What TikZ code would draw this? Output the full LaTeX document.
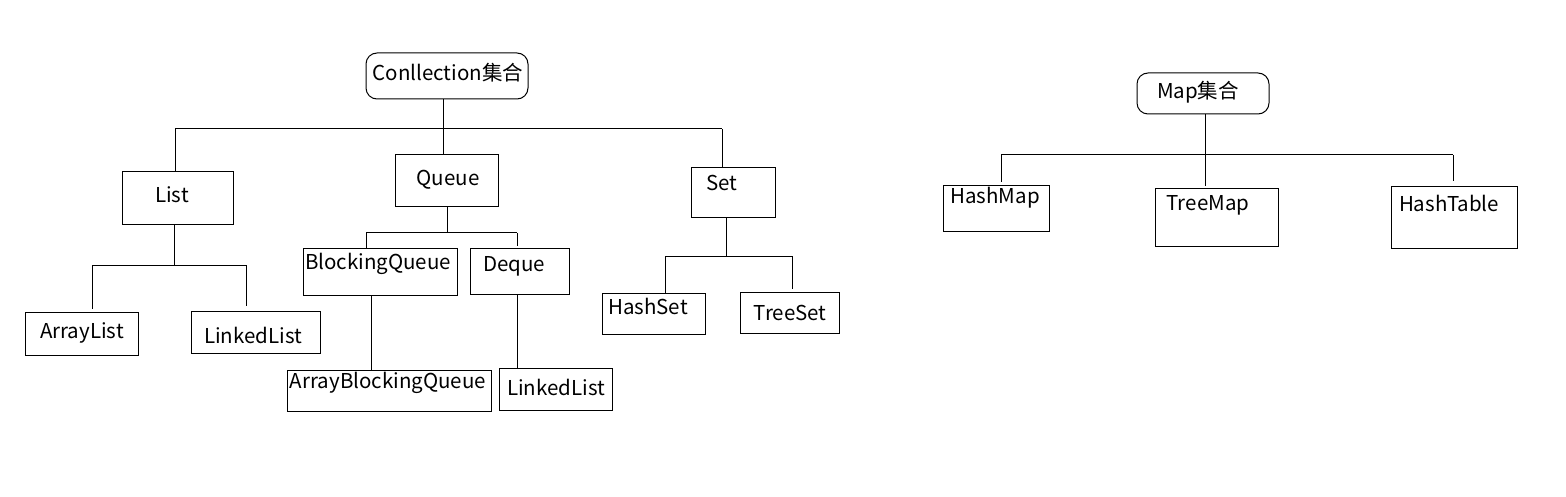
\documentclass[tikz,border=0pt]{standalone}
\usepackage{fontspec}
\setmainfont{Noto Sans CJK SC}
\begin{document}
\begin{tikzpicture}[x=1pt,y=-1pt,
  line width=1pt,
  box/.style={draw=black,line width=1pt,inner sep=0pt},
  rbox/.style={box,rounded corners=11pt},
  txt/.style={inner sep=0pt,font=\fontsize{20.5}{20.5}\selectfont},
  gap/.style={shorten >=3pt}]
\useasboundingbox (0,0) rectangle (1566,497);
% boxes
\node[rbox,minimum width=162,minimum height=46] (coll) at (447,76) {};
\node[box,minimum width=111,minimum height=53] (list) at (177.5,198.5) {};
\node[box,minimum width=103,minimum height=52] (queue) at (446.5,181) {};
\node[box,minimum width=84,minimum height=50] (set) at (733,193) {};
\node[box,minimum width=113,minimum height=43] (alist) at (81.5,333.5) {};
\node[box,minimum width=129,minimum height=42] (llist) at (255.5,332) {};
\node[box,minimum width=154,minimum height=47] (bq) at (380,271.5) {};
\node[box,minimum width=99,minimum height=46] (deque) at (519.5,271) {};
\node[box,minimum width=204,minimum height=41] (abq) at (389,390.5) {};
\node[box,minimum width=113,minimum height=42] (llist2) at (555.5,389) {};
\node[box,minimum width=103,minimum height=41] (hset) at (653.5,313.5) {};
\node[box,minimum width=99,minimum height=41] (tset) at (789.5,312.5) {};
\node[rbox,minimum width=132,minimum height=41] (map) at (1203,93.5) {};
\node[box,minimum width=106,minimum height=46] (hmap) at (996,209) {};
\node[box,minimum width=123,minimum height=57] (tmap) at (1216.5,217.5) {};
\node[box,minimum width=126,minimum height=61] (htab) at (1454,217.5) {};
% texts
\node[txt] (coll-t) at (448,73) {Conllection集合};
\node[txt] (list-t) at (172,195) {List};
\node[txt] (queue-t) at (448,180) {Queue};
\node[txt] (set-t) at (722,183) {Set};
\node[txt] (alist-t) at (82,333) {ArrayList};
\node[txt] (llist-t) at (253,335) {LinkedList};
\node[txt] (bq-t) at (378,264) {BlockingQueue};
\node[txt] (deque-t) at (514,266) {Deque};
\node[txt] (abq-t) at (388,383) {ArrayBlockingQueue};
\node[txt] (llist2-t) at (556,387) {LinkedList};
\node[txt] (hset-t) at (648,306) {HashSet};
\node[txt] (tset-t) at (790,313) {TreeSet};
\node[txt] (map-t) at (1198,92) {Map集合};
\node[txt] (hmap-t) at (995,198) {HashMap};
\node[txt] (tmap-t) at (1208,205) {TreeMap};
\node[txt] (htab-t) at (1449,203) {HashTable};
% collection tree
\coordinate (cL) at (175,129);
\coordinate (cM) at (443,129);
\coordinate (cR) at (722,129);
\draw (coll.south -| cM) -- (queue.north -| cM);
\draw (cL) -- (cR);
\draw (cL) -- (list.north -| cL);
\draw (cR) -- (set.north -| cR);
% list tree
\coordinate (lL) at (92,265);
\coordinate (lM) at (174,265);
\coordinate (lR) at (246,265);
\draw (list.south -| lM) -- (lM);
\draw (lL) -- (lR);
\draw[gap] (lL) -- (alist.north -| lL);
\draw[shorten >=5pt] (lR) -- (llist.north -| lR);
% queue tree
\coordinate (qL) at (366,233);
\coordinate (qM) at (447,233);
\coordinate (qR) at (517,233);
\draw (queue.south -| qM) -- (qM);
\draw (qL) -- (qR);
\draw (qL) -- (bq.north -| qL);
\draw[shorten >=2pt] (qR) -- (deque.north -| qR);
\coordinate (bqx) at (371,0);
\draw (bq.south -| bqx) -- (abq.north -| bqx);
\coordinate (dqx) at (517,0);
\draw (deque.south -| dqx) -- (llist2.north -| dqx);
% set tree
\coordinate (sL) at (665,256);
\coordinate (sM) at (726,256);
\coordinate (sR) at (792,256);
\draw (set.south -| sM) -- (sM);
\draw (sL) -- (sR);
\draw (sL) -- (hset.north -| sL);
\draw[gap] (sR) -- (tset.north -| sR);
% map tree
\coordinate (mL) at (1001,155);
\coordinate (mM) at (1205,155);
\coordinate (mR) at (1453,155);
\draw[shorten >=2pt] (map.south -| mM) -- (tmap.north -| mM);
\draw (mL) -- (mR);
\draw[gap] (mL) -- (hmap.north -| mL);
\draw[shorten >=5pt] (mR) -- (htab.north -| mR);
\end{tikzpicture}
\end{document}
